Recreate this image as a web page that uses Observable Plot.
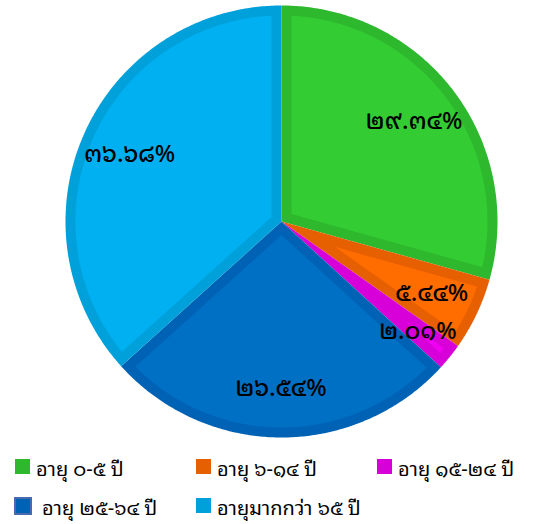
<!DOCTYPE html>
<html><head><meta charset="utf-8">
<script src="https://cdn.jsdelivr.net/npm/d3@7"></script>
<script src="https://cdn.jsdelivr.net/npm/@observablehq/plot@0.6"></script>
<style>
body{margin:0;background:#fff;font-family:"Noto Sans Thai Looped",Tahoma,"Noto Sans Thai","Noto Sans","DejaVu Sans",sans-serif;}
#legend{display:grid;grid-template-columns:181px 181px 181px;padding-left:15px;margin-top:2px;}
.item{display:flex;align-items:center;height:39px;font-size:20px;color:#000;white-space:nowrap;}
.sw{width:15px;height:15px;margin-right:6px;flex:none;box-sizing:border-box;}
.sw.big{width:18px;height:18px;border:2px solid #4a6aae;margin-left:-1px;margin-right:10px;}
</style></head>
<body><div id="chart"></div><div id="legend"></div>
<script>
const categories = ["อายุ ๐-๕ ปี","อายุ ๖-๑๔ ปี","อายุ ๑๕-๒๔ ปี","อายุ ๒๕-๖๔ ปี","อายุมากกว่า ๖๕ ปี"];
const values = [29.34, 5.44, 2.01, 26.54, 36.68];
const fillColors = ["#33cc33","#ff6c00","#f000f0","#0070c4","#00b0f0"];
const edgeColors = ["#2db82d","#e65f00","#d800d8","#0062b4","#00a0da"];

const thaiDigits = "๐๑๒๓๔๕๖๗๘๙";
const toThai = s => s.replace(/[0-9]/g, d => thaiDigits[+d]);

const total = d3.sum(values);
const W = 10/216; // border band in unit radius
const outer = [], inner = [], labels = [];
let acc = 0;
values.forEach((v, i) => {
  const a0 = acc / total * 2 * Math.PI;
  acc += v;
  const a1 = acc / total * 2 * Math.PI;
  const th = a1 - a0, mid = (a0 + a1) / 2;
  const pt = (r, a) => ({x: r * Math.sin(a), y: r * Math.cos(a)});
  const n = Math.max(4, Math.ceil(th / 0.01));
  outer.push({k: i, c: edgeColors[i], x: 0, y: 0});
  for (let j = 0; j <= n; j++) outer.push({k: i, c: edgeColors[i], ...pt(1, a0 + th * j / n)});
  const d = W / Math.sin(Math.min(th, Math.PI) / 2);
  const del = Math.asin(W / (1 - W));
  if (th / 2 > del) {
    inner.push({k: i, c: fillColors[i], ...pt(d, mid)});
    const b0 = a0 + del, b1 = a1 - del;
    for (let j = 0; j <= n; j++) inner.push({k: i, c: fillColors[i], ...pt(1 - W, b0 + (b1 - b0) * j / n)});
  }
  // small slices get their label pushed a little further out
  labels.push({text: toThai(v.toFixed(2)) + "%", ...pt(v < 3 ? 0.81 : 0.77, mid)});
});

const chart = Plot.plot({
  width: 552, height: 445, margin: 0,
  style: {fontFamily: '"Noto Sans Thai Looped",Tahoma,"Noto Sans Thai","Noto Sans",sans-serif', background: "#fff"},
  x: {domain: [-1, 1], range: [65, 497], axis: null},
  y: {domain: [-1, 1], range: [437, 5], axis: null},
  color: {type: "identity"},
  marks: [
    Plot.line(outer, {x: "x", y: "y", z: "k", fill: "c", stroke: null, curve: "linear-closed"}),
    Plot.line(inner, {x: "x", y: "y", z: "k", fill: "c", stroke: null, curve: "linear-closed"}),
    Plot.text(labels, {x: "x", y: "y", text: "text", fontSize: 24, fontWeight: 500, fill: "#000"})
  ]
});
document.getElementById("chart").appendChild(chart);

const leg = document.getElementById("legend");
categories.forEach((c, i) => {
  const it = document.createElement("div"); it.className = "item";
  const sw = document.createElement("span"); sw.className = "sw" + (i === 3 ? " big" : ""); sw.style.background = edgeColors[i];
  const t = document.createElement("span"); t.textContent = c;
  it.append(sw, t); leg.append(it);
});
</script></body></html>
